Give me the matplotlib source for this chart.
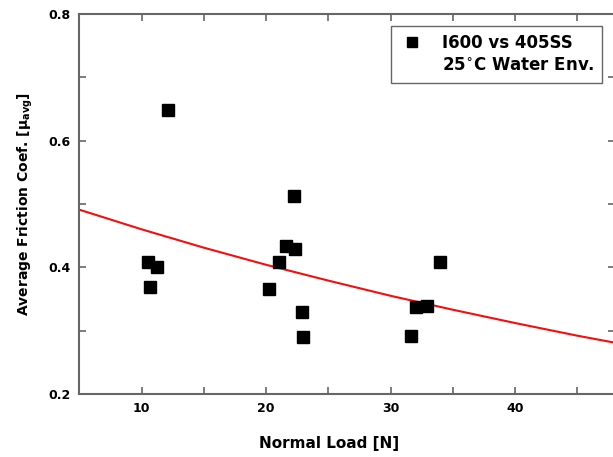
import matplotlib
matplotlib.use('Agg')
import matplotlib.pyplot as plt
from matplotlib.ticker import MultipleLocator
from matplotlib.lines import Line2D

# Measured data points
load = [12.1, 10.5, 11.25, 10.65, 20.25, 21.05, 21.6, 22.35, 22.25, 22.85, 23.0, 31.6, 32.0, 32.9, 34.0]
friction = [0.648, 0.408, 0.400, 0.369, 0.366, 0.408, 0.433, 0.429, 0.513, 0.329, 0.290, 0.292, 0.337, 0.339, 0.408]

# Trend curve
fit_load = [5, 10, 15, 20, 25, 30, 35, 40, 45, 48]
fit_friction = [0.491, 0.460, 0.431, 0.404, 0.379, 0.355, 0.333, 0.312, 0.292, 0.281]

plt.rcParams['font.family'] = 'DejaVu Sans'
plt.rcParams['font.weight'] = 'bold'
plt.rcParams['mathtext.default'] = 'regular'

fig = plt.figure(figsize=(6.13, 4.57), dpi=100)
ax = fig.add_axes([0.1294, 0.1379, 1.003 - 0.1294, 0.9694 - 0.1379])

ax.plot(fit_load, fit_friction, color='#f01010', linewidth=1.5, zorder=2)
ax.plot(load, friction, 's', color='black', markersize=9, linestyle='none', zorder=3)

ax.set_xlim(5, 48)
ax.set_ylim(0.2, 0.8)
ax.xaxis.set_major_locator(MultipleLocator(10))
ax.xaxis.set_minor_locator(MultipleLocator(5))
ax.yaxis.set_major_locator(MultipleLocator(0.2))
ax.yaxis.set_minor_locator(MultipleLocator(0.1))
ax.tick_params(which='both', direction='in', top=True, right=True, color='#666666',
               width=1.2, length=5, labelsize=9, pad=6)
ax.set_yticks([0.2, 0.4, 0.6, 0.8])
ax.set_yticklabels(['0.2', '0.4', '0.6', '0.8'], fontweight='bold')
ax.set_xticks([10, 20, 30, 40])
ax.set_xticklabels(['10', '20', '30', '40'], fontweight='bold')
for s in ax.spines.values():
    s.set_color('#666666')
    s.set_linewidth(1.5)

ax.set_xlabel('Normal Load [N]', fontsize=11, fontweight='bold')
ax.xaxis.set_label_coords(0.466, -0.11)
ax.set_ylabel(r'Average Friction Coef. [$\mu_{avg}$]', fontsize=10, fontweight='bold', labelpad=10)

handles = [Line2D([], [], marker='s', color='black', linestyle='none', markersize=7.5),
           Line2D([], [], linestyle='none')]
leg = ax.legend(handles, ['I600 vs 405SS', '25$^{\\circ}$C Water Env.'],
                loc='upper right', bbox_to_anchor=(0.976, 0.968), borderaxespad=0,
                fancybox=False, edgecolor='#666666', framealpha=1,
                prop={'size': 12, 'weight': 'bold'},
                handletextpad=1.0, borderpad=0.45, labelspacing=0.35, handlelength=1.6)
leg.get_frame().set_linewidth(1.0)

fig.savefig('out.png', dpi=100)
